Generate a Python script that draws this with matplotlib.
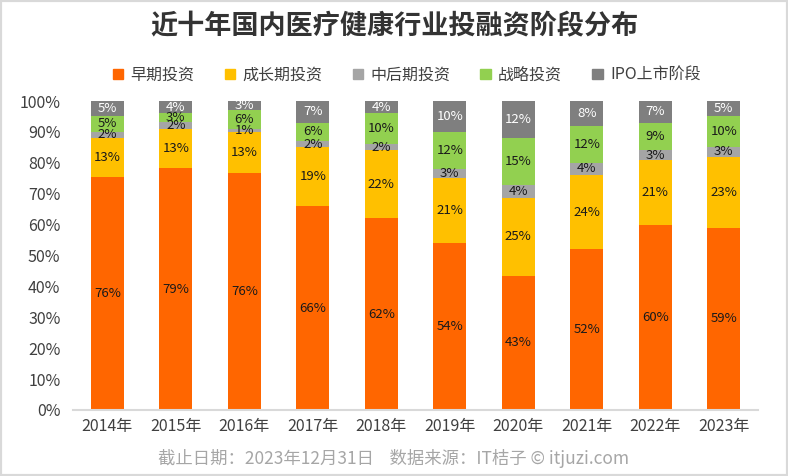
import numpy as np
import matplotlib
matplotlib.use("Agg")
import matplotlib.pyplot as plt
from matplotlib.patches import Patch, Rectangle

plt.rcParams['font.family'] = ['Noto Sans CJK SC', 'DejaVu Sans']

years = ['2014年', '2015年', '2016年', '2017年', '2018年',
         '2019年', '2020年', '2021年', '2022年', '2023年']
stages = ['早期投资', '成长期投资', '中后期投资', '战略投资', 'IPO上市阶段']
early = [76, 79, 76, 66, 62, 54, 43, 52, 60, 59]
growth = [13, 13, 13, 19, 22, 21, 25, 24, 21, 23]
late = [2, 2, 1, 2, 2, 3, 4, 4, 3, 3]
strategic = [5, 3, 6, 6, 10, 12, 15, 12, 9, 10]
ipo = [5, 4, 3, 7, 4, 10, 12, 8, 7, 5]
colors = ['#FF6600', '#FFC000', '#A5A5A5', '#92D050', '#7F7F7F']
label_colors = ['#1a1a1a', '#1a1a1a', '#1a1a1a', '#1a1a1a', 'white']

series = np.array([early, growth, late, strategic, ipo], dtype=float)
shares = series / series.sum(axis=0)  # stacked to 100%

fig = plt.figure(figsize=(7.88, 4.76), dpi=100)
ax = fig.add_axes([73/788, 1-410/476, 685/788, 309/476])

x = np.arange(len(years))
bottom = np.zeros(len(years))
for i in range(len(stages)):
    ax.bar(x, shares[i], 0.48, bottom=bottom, color=colors[i], label=stages[i], zorder=2)
    for j in range(len(years)):
        ax.text(x[j], bottom[j] + shares[i][j] / 2, f"{int(series[i][j])}%",
                ha='center', va='center', fontsize=9.5, color=label_colors[i], zorder=3)
    bottom += shares[i]

ax.set_xlim(-0.5, len(years) - 0.5)
ax.set_ylim(0, 1)
ax.set_yticks(np.arange(0, 1.01, 0.1))
ax.set_yticklabels([f"{v}%" for v in range(0, 101, 10)])
ax.set_xticks(x)
ax.set_xticklabels(years)
ax.tick_params(axis='both', length=0, labelsize=11.5, colors='#404040')
ax.tick_params(axis='y', pad=9)
ax.tick_params(axis='x', pad=6)
for s in ['top', 'right', 'left']:
    ax.spines[s].set_visible(False)
ax.spines['bottom'].set_color('#d9d9d9')
ax.spines['bottom'].set_linewidth(1.5)

handles = [Patch(color=c) for c in colors]
fig.legend(handles, stages, ncol=5, loc='center', bbox_to_anchor=(0.516, 1-75/476),
           frameon=False, fontsize=11.5, handlelength=0.65, handleheight=0.65,
           handletextpad=0.45, columnspacing=1.9, labelcolor='#404040')

fig.text(0.5, 1-26/476, '近十年国内医疗健康行业投融资阶段分布', ha='center', va='center',
         fontsize=19.5, fontweight='bold', color='#333333')
fig.text(0.5, 1-459/476, '截止日期：2023年12月31日    数据来源：IT桔子 © itjuzi.com',
         ha='center', va='center', fontsize=12.5, color='#a6a6a6')

fig.patches.append(Rectangle((0, 0), 1, 1, transform=fig.transFigure, fill=False,
                             edgecolor='#d9d9d9', linewidth=3))

fig.savefig('out.png', dpi=100)
